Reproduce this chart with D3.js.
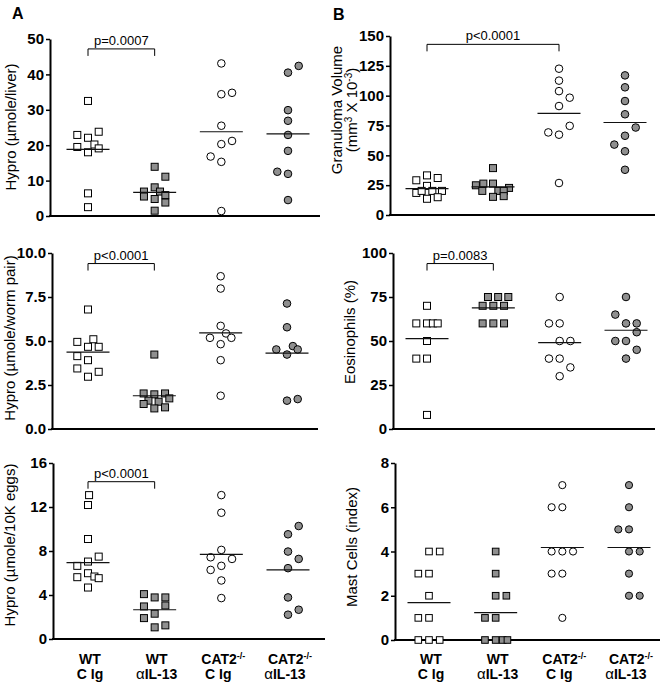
<!DOCTYPE html>
<html><head><meta charset="utf-8">
<script src="https://cdn.jsdelivr.net/npm/d3@7"></script>
<style>
body{margin:0;background:#fff}
svg{display:block}
text{font-family:"Liberation Sans",Arial,Helvetica,sans-serif;fill:#000}
</style>
</head><body>
<svg id="chart" width="661" height="685"></svg>
<script>
// ---------- DATA ----------
const groups = ["WT C Ig", "WT αIL-13", "CAT2-/- C Ig", "CAT2-/- αIL-13"];
const groupLine1 = ["WT", "WT", "CAT2", "CAT2"];
const groupSup = ["", "", "-/-", "-/-"];
const groupGreek = ["", "α", "", "α"];
const groupLine2 = ["C Ig", "IL-13", "C Ig", "IL-13"];

// Hydroxyproline (µmole/liver)
const liverValues = [
  [32.5, 22.9, 22.1, 23.8, 19.5, 20.2, 18.0, 19.1, 6.4, 2.5],
  [13.9, 11.1, 8.1, 6.9, 6.9, 5.5, 4.8, 5.9, 3.8, 1.5],
  [43.1, 34.4, 34.8, 25.5, 20.3, 21.2, 16.8, 15.3, 1.4],
  [40.5, 42.4, 29.9, 26.9, 22.9, 18.4, 12.5, 11.9, 4.5]
];
const liverCols = [
  [0, -1, 0, 1, -1, 0.6, 0, 1, 0, 0],
  [0, 1, 0, -1, 0.5, -1, 0, 1, 1, 0],
  [0, 0, 1, 0, 0, 1, -1, 0, 0],
  [0, 1, 0, 0, 0, 0, -1, 0, 0]
];
const liverMeans = [18.8, 6.7, 23.8, 23.2];
const liverTicks = [0, 10, 20, 30, 40, 50];

// Granuloma volume (mm3 x 10-3)
const granValues = [
  [29.1, 33.2, 31.0, 24.4, 18.5, 20.2, 20.2, 20.2, 13.6, 14.9],
  [39.3, 24.9, 26.3, 26.3, 22.7, 20.2, 20.2, 20.2, 15.2, 15.8],
  [122.6, 112.6, 103.8, 98.3, 91.3, 69.2, 67.3, 74.7, 26.8],
  [117, 107, 95.5, 84.4, 73.3, 59, 66.4, 53.4, 37.9]
];
const granCols = [
  [-1, 0, 1, 0, -1, -0.5, 0.5, 1.4, 0, 1],
  [0, -1.6, -0.9, 0, 1.5, -1, 0.5, 1, 0, 1],
  [0, 0, 0, 1, 0, -1, 0, 1, 0],
  [0, 0, 0, 0, 1, -1, 0, 0, 0]
];
const granMeans = [22.1, 23.5, 85.2, 77.5];
const granTicks = [0, 25, 50, 75, 100, 125, 150];

// Hydroxyproline (µmole/worm pair)
const wormValues = [
  [6.79, 4.95, 5.10, 4.67, 4.67, 4.14, 3.91, 3.44, 2.97, 3.25],
  [4.23, 2.02, 1.97, 2.02, 1.61, 1.55, 1.74, 1.42, 1.17, 1.23],
  [8.68, 7.98, 5.86, 5.18, 5.43, 5.18, 4.82, 3.91, 1.89],
  [7.13, 5.78, 4.52, 4.23, 4.71, 4.52, 1.61, 1.70]
];
const wormCols = [
  [0, -1, 0.5, 0, 1, -1, 0, -1, 0, 1],
  [0, -1, 0, 1, -0.55, 0.4, 1.4, -1, 0, 1],
  [0, 0, 0, -1, 0.5, 1, 0, 0, 0],
  [0, 0, -1, 0, 0.55, 1, 0, 1]
];
const wormMeans = [4.37, 1.89, 5.46, 4.31];
const wormTicks = [0, 2.5, 5, 7.5, 10];

// Eosinophils (%)
const eosValues = [
  [70, 60, 60, 60, 60, 50, 40, 40, 8],
  [75, 75, 75, 70, 70, 70, 60, 60, 60],
  [75, 60, 60, 50, 50, 40, 40, 35, 30],
  [75, 65, 60, 60, 50, 50, 55, 45, 40]
];
const eosCols = [
  [0, -1, 0, 0.55, 1, 0, -1, 0, 0],
  [-0.5, 0.45, 1.4, -1, 0, 1, -1, 0, 1],
  [0, -1, 0, 0, 1, -1, 0, 1, 0],
  [0, -1, 0, 1, -1, 0, 1, 1, 0]
];
const eosMeans = [51.4, 68.8, 49.1, 56.1];
const eosTicks = [0, 25, 50, 75, 100];

// Hydroxyproline (µmole/10K eggs)
const eggValues = [
  [13.08, 12.18, 9.09, 6.65, 7.04, 7.49, 5.62, 5.98, 5.68, 5.53, 4.68],
  [4.08, 3.78, 3.78, 2.96, 3.05, 1.90, 2.30, 1.06, 1.24],
  [13.08, 11.48, 8.10, 7.43, 7.28, 6.65, 6.28, 5.32, 3.72],
  [9.52, 10.27, 7.95, 7.28, 6.44, 3.78, 2.66, 2.21]
];
const eggCols = [
  [0.1, 0, 0, -1, 0, 1, -1, 0, 0.6, 1, 0],
  [-1, 0, 1, -1, 1, -1, 0, 0, 1],
  [0, 0, 0, -1, 1, 0, -1, 0, 0],
  [0, 1, 0, 1, 0, 0, 1, 0]
];
const eggMeans = [6.95, 2.66, 7.70, 6.28];
const eggTicks = [0, 4, 8, 12, 16];

// Mast cells (index)
const mastValues = [
  [4, 4, 3, 3, 2, 1, 1, 0, 0, 0],
  [4, 3, 2, 2, 1, 1, 0, 0, 0, 0],
  [7, 6, 6, 4, 4, 4, 3, 3, 1],
  [7, 6, 5, 5, 4, 4, 3, 2, 2]
];
const mastCols = [
  [0, 1, -1, 0, 0, -1, 0, -1, 0, 1],
  [0, 0, 0, 1, -1, 0, -1, 0, 0.65, 1.1],
  [0, -1, 0, -1, 0, 1, -1, 0, 0],
  [0, 0, -1, 0, 0, 1, 0, 0, 1]
];
const mastMeans = [1.69, 1.24, 4.18, 4.18];
const mastTicks = [0, 2, 4, 6, 8];

// significance brackets: [fromGroup, toGroup, height (data units), label]
const liverSig = [0, 1, 47.2, "p=0.0007"];
const granSig = [0, 2, 143, "p<0.0001"];
const wormSig = [0, 1, 9.4, "p<0.0001"];
const eosSig = [0, 1, 94, "p=0.0083"];
const eggSig = [0, 1, 14.3, "p<0.0001"];

// ---------- DRAWING ----------
const svg = d3.select("#chart");
const STEP = 10.7;
const GRAY = "#8f8f8f";

function panel(cfg) {
  const g = svg.append("g");
  const x = d3.scalePoint().domain(groups).range([cfg.c0, cfg.c3]);
  const y = d3.scaleLinear().domain([0, cfg.max]).range([cfg.y0, cfg.y1]);

  const ax = g.append("g").attr("transform", `translate(${cfg.ax},0)`)
    .call(d3.axisLeft(y).tickValues(cfg.ticks).tickSize(4).tickSizeOuter(0).tickPadding(2)
      .tickFormat(cfg.fmt || d3.format("d")));
  ax.select(".domain").attr("stroke", "#000").attr("stroke-width", 2);
  ax.selectAll(".tick line").attr("stroke", "#000").attr("stroke-width", 1.5);
  ax.selectAll(".tick text").attr("font-size", 15).attr("font-weight", "bold")
    .attr("font-family", '"Liberation Sans",Arial,sans-serif').attr("fill", "#000");

  g.append("line").attr("x1", cfg.ax - 1).attr("x2", cfg.right)
    .attr("y1", y(0)).attr("y2", y(0)).attr("stroke", "#000").attr("stroke-width", 2);

  const ms = cfg.ms || 7;
  groups.forEach((gr, i) => {
    const vals = cfg.values[i];
    vals.forEach((v, j) => {
      const cx = x(gr) + cfg.cols[i][j] * STEP, cy = y(v);
      const fill = (i % 2 === 1) ? GRAY : "#fff";
      if (i < 2) {
        g.append("rect").attr("x", cx - ms / 2).attr("y", cy - ms / 2)
          .attr("width", ms).attr("height", ms)
          .attr("fill", fill).attr("stroke", "#000").attr("stroke-width", 1);
      } else {
        g.append("circle").attr("cx", cx).attr("cy", cy).attr("r", ms / 2 + 0.3)
          .attr("fill", fill).attr("stroke", "#000").attr("stroke-width", 1);
      }
    });
    g.append("line").attr("x1", x(gr) - 21.5).attr("x2", x(gr) + 21.5)
      .attr("y1", y(cfg.means[i])).attr("y2", y(cfg.means[i]))
      .attr("stroke", "#111").attr("stroke-width", 1.2);
  });

  if (cfg.sig) {
    const [a, b, h, lab] = cfg.sig;
    const xa = x(groups[a]), xb = x(groups[b]), yb = y(h);
    g.append("path").attr("d", `M${xa},${yb + 7}V${yb}H${xb}V${yb + 7}`)
      .attr("fill", "none").attr("stroke", "#000").attr("stroke-width", 1);
    g.append("text").attr("x", (xa + xb) / 2).attr("y", yb - 4)
      .attr("text-anchor", "middle").attr("font-size", 13).text(lab);
  }

  // y title
  const cy = cfg.titleY;
  cfg.title.forEach((t, k) => {
    const tx = g.append("text").attr("transform", `translate(${cfg.titleX[k]},${cy}) rotate(-90)`)
      .attr("text-anchor", "middle").attr("font-size", 15);
    t.forEach(part => {
      const ts = tx.append("tspan").text(part[0]);
      if (part[1] === "sup") ts.attr("baseline-shift", "super").attr("font-size", 10);
    });
  });

  if (cfg.labels) {
    groups.forEach((gr, i) => {
      const t1 = g.append("text").attr("x", x(gr) + 2).attr("y", 664)
        .attr("text-anchor", "middle").attr("font-size", 14).attr("font-weight", "bold");
      t1.append("tspan").text(groupLine1[i]);
      if (groupSup[i]) t1.append("tspan").attr("baseline-shift", "super").attr("font-size", 9).text(groupSup[i]);
      const t2 = g.append("text").attr("x", x(gr) + (i >= 2 ? -3 : 2)).attr("y", 679)
        .attr("text-anchor", "middle").attr("font-size", 14).attr("font-weight", "bold");
      if (groupGreek[i]) t2.append("tspan").attr("font-weight", "normal").attr("font-size", 15).text(groupGreek[i]);
      t2.append("tspan").text(groupLine2[i]);
    });
  }
}

panel({values: liverValues, cols: liverCols, means: liverMeans, ticks: liverTicks, max: 50,
  ax: 50, right: 320, c0: 88, c3: 288, y0: 216, y1: 39, sig: liverSig,
  title: [[["Hypro (µmole/liver)"]]], titleX: [16], titleY: 127});
panel({values: granValues, cols: granCols, means: granMeans, ticks: granTicks, max: 150,
  ax: 390, right: 655, c0: 427, c3: 625, y0: 215, y1: 36, sig: granSig,
  title: [[["Granuloma Volume"]], [["(mm"], ["3", "sup"], [" X 10"], ["-3", "sup"], [")"]]],
  titleX: [342, 357], titleY: 110});
panel({values: wormValues, cols: wormCols, means: wormMeans, ticks: wormTicks, max: 10,
  ax: 52, right: 318, c0: 88, c3: 287, y0: 429, y1: 253, sig: wormSig, fmt: d3.format(".1f"),
  title: [[["Hypro (µmole/worm pair)"]]], titleX: [15], titleY: 338});
panel({values: eosValues, cols: eosCols, means: eosMeans, ticks: eosTicks, max: 100,
  ax: 393, right: 655, c0: 427, c3: 626, y0: 429, y1: 253, sig: eosSig,
  title: [[["Eosinophils (%)"]]], titleX: [355], titleY: 332});
panel({values: eggValues, cols: eggCols, means: eggMeans, ticks: eggTicks, max: 16,
  ax: 53, right: 325, c0: 88, c3: 288, y0: 639, y1: 463, sig: eggSig, labels: true,
  title: [[["Hypro (µmole/10K eggs)"]]], titleX: [15], titleY: 545});
panel({values: mastValues, cols: mastCols, means: mastMeans, ticks: mastTicks, max: 8, ms: 6.6,
  ax: 395, right: 660, c0: 429, c3: 629, y0: 640, y1: 463, labels: true,
  title: [[["Mast Cells (index)"]]], titleX: [357], titleY: 547});

svg.append("text").attr("x", 12).attr("y", 19).attr("font-size", 16).attr("font-weight", "bold").text("A");
svg.append("text").attr("x", 333).attr("y", 20).attr("font-size", 16).attr("font-weight", "bold").text("B");
</script>
</body></html>
